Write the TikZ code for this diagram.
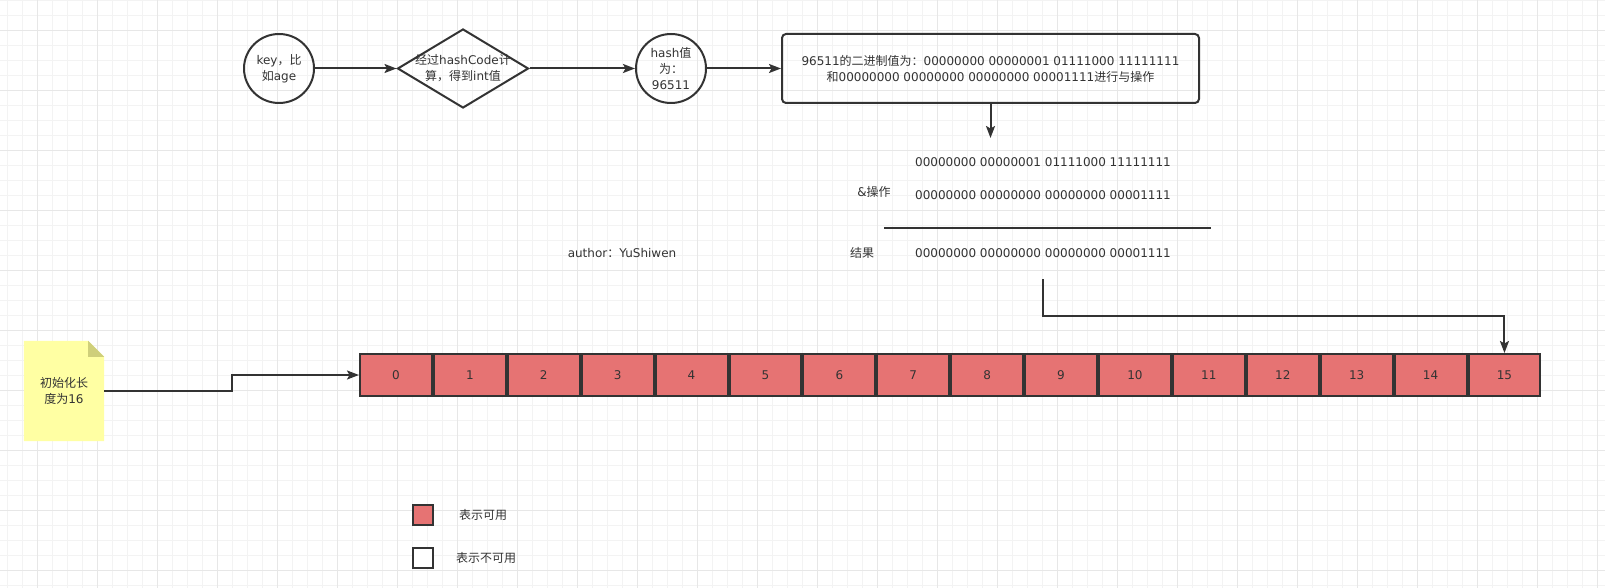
\documentclass[tikz,border=0pt]{standalone}
\usepackage{fontspec}
\setmainfont{DejaVu Sans}
\newfontfamily\cjk{Noto Sans CJK SC}
\usetikzlibrary{arrows.meta,shapes.geometric}
\definecolor{ink}{HTML}{333333}
\definecolor{cellred}{HTML}{E67373}
\definecolor{gridminor}{HTML}{F3F3F3}
\definecolor{gridmajor}{HTML}{E7E7E7}
\definecolor{notey}{HTML}{FFFFA3}
\definecolor{notefold}{HTML}{CFCF7A}
\tikzset{
  shapeline/.style={draw=ink, line width=2pt},
  conn/.style={draw=ink, line width=2pt, -{Stealth[length=12pt,width=9pt,inset=2.5pt]}},
  txt/.style={font=\fontsize{12}{16}\selectfont, text=ink, inner sep=0pt, align=center},
  cellbox/.style={draw=ink, line width=2pt, fill=cellred, minimum width=71.9pt, minimum height=42pt, txt},
  legendbox/.style={draw=ink, line width=2pt, minimum width=20pt, minimum height=20pt, inner sep=0pt},
}
\begin{document}
\begin{tikzpicture}[x=1pt,y=-1pt]
\useasboundingbox (0,0) rectangle (1605,588);
\fill[white] (0,0) rectangle (1605,588);
% grid
\foreach \k in {0,...,106} \draw[gridminor, line width=1pt] ({7.5+15*\k},0) -- ({7.5+15*\k},588);
\foreach \k in {0,...,39} \draw[gridminor, line width=1pt] (0,{0.5+15*\k}) -- (1605,{0.5+15*\k});
\foreach \k in {0,...,26} \draw[gridmajor, line width=1pt] ({37.5+60*\k},0) -- ({37.5+60*\k},588);
\foreach \k in {0,...,9} \draw[gridmajor, line width=1pt] (0,{30.5+60*\k}) -- (1605,{30.5+60*\k});

% top flow
\node[ellipse, shapeline, minimum width=70pt, minimum height=69pt, txt] (key) at (279,68.5) {key{\cjk ，比}\\{\cjk 如}age};
\node[diamond, shapeline, minimum width=131pt, minimum height=79pt, inner sep=0pt] (dia) at (463,68.5) {};
\node[txt] (diatext) at (dia.center) {{\cjk 经过}hashCode{\cjk 计}\\{\cjk 算，得到}int{\cjk 值}};
\node[ellipse, shapeline, minimum width=70pt, minimum height=69pt, txt] (hash) at (671,68.5) {hash{\cjk 值}\\{\cjk 为：}\\96511};
\node[draw=ink, line width=2pt, rounded corners=4pt, minimum width=417pt, minimum height=69pt, txt] (bin) at (990.5,68.5)
  {96511{\cjk 的二进制值为：}00000000 00000001 01111000 11111111\\{\cjk 和}00000000 00000000 00000000 00001111{\cjk 进行与操作}};
\draw[conn] (key) -- (dia);
\draw[conn] (dia) -- (hash);
\draw[conn] (hash) -- (bin);
\coordinate (optop) at (990.5,138);
\draw[conn] (bin.south) -- (optop);

% AND operation
\node[txt] (l1) at (1043,162) {00000000 00000001 01111000 11111111};
\node[txt] (l2) at (1043,195) {00000000 00000000 00000000 00001111};
\node[txt] (op) at (874,192) {\&{\cjk 操作}};
\draw[ink, line width=2pt] (884,228) -- (1211,228);
\node[txt] (res) at (1043,253) {00000000 00000000 00000000 00001111};
\node[txt] (reslabel) at (862,253) {\cjk 结果};
\node[txt] (author) at (622,253) {author{\cjk ：}YuShiwen};

% array
\foreach \i in {0,...,15} \node[cellbox] (c\i) at ({359+73.9*\i+36.95},375) {\i};

% note
\node[txt, minimum width=80pt, minimum height=100pt] (note) at (64,391) {};
\fill[notey] (note.south west) -- (note.north west) -- ([xshift=-16pt]note.north east) -- ([yshift=-16pt]note.north east) -- (note.south east) -- cycle;
\fill[notefold] ([xshift=-16pt]note.north east) -- ([yshift=-16pt]note.north east) -- ([xshift=-16pt,yshift=-16pt]note.north east) -- cycle;
\node[txt] (notetext) at (note.center) {{\cjk 初始化长}\\{\cjk 度为}16};
\draw[conn] (note.east) -- ++(128,0) |- (c0.west);

% result to cell 15
\coordinate (resbot) at (1043,279);
\draw[conn] (resbot) -- ++(0,37) -| (c15.north);

% legend
\node[legendbox, fill=cellred] (lg1) at (423,515) {};
\node[txt] (lg1t) at (483,515) {\cjk 表示可用};
\node[legendbox, fill=white] (lg2) at (423,558) {};
\node[txt] (lg2t) at (486,558) {\cjk 表示不可用};
\end{tikzpicture}
\end{document}
